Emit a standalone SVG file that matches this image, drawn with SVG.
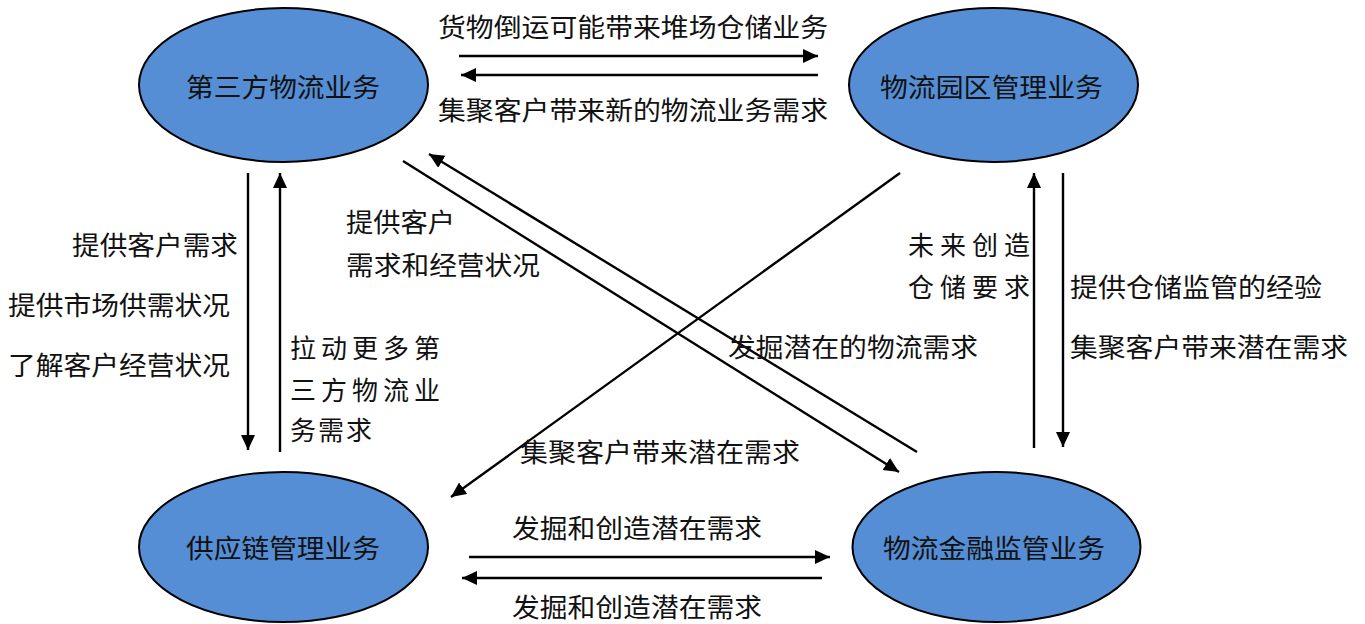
<svg xmlns="http://www.w3.org/2000/svg" width="1365" height="624" viewBox="0 0 1365 624">
  <style>
    .node ellipse { fill: #558ED5; stroke: #000; stroke-width: 2; }
    text { font-family: "Liberation Serif", "Noto Sans CJK SC", serif; font-size: 26px; fill: #111; }
    .conn line { stroke: #000; stroke-width: 2.4; fill: none; }
    .arrow { marker-end: url(#head); }
  </style>
  <defs>
    <marker id="head" markerUnits="userSpaceOnUse" markerWidth="16" markerHeight="15" refX="15" refY="7" orient="auto">
      <path d="M0,0 L15,7 L0,14 Z" fill="#000"/>
    </marker>
  </defs>

  <rect width="1365" height="624" fill="#fff"/>

  <!-- business nodes -->
  <g id="node-3pl" class="node">
    <ellipse cx="283.5" cy="85" rx="144.5" ry="77"/>
    <text x="186" y="97" textLength="194" lengthAdjust="spacingAndGlyphs">第三方物流业务</text>
  </g>
  <g id="node-park" class="node">
    <ellipse cx="993.5" cy="85" rx="144.5" ry="77"/>
    <text x="880" y="97" textLength="223" lengthAdjust="spacingAndGlyphs">物流园区管理业务</text>
  </g>
  <g id="node-scm" class="node">
    <ellipse cx="283.5" cy="547" rx="144.5" ry="75"/>
    <text x="186" y="558" textLength="194" lengthAdjust="spacingAndGlyphs">供应链管理业务</text>
  </g>
  <g id="node-finance" class="node">
    <ellipse cx="996.5" cy="547" rx="144" ry="75"/>
    <text x="883" y="558" textLength="222" lengthAdjust="spacingAndGlyphs">物流金融监管业务</text>
  </g>

  <!-- connectors -->
  <g id="connectors" class="conn">
    <!-- top pair -->
    <line class="arrow" x1="459" y1="56" x2="818" y2="56"/>
    <line class="arrow" x1="818" y1="75" x2="461" y2="75"/>
    <!-- left pair -->
    <line class="arrow" x1="248" y1="173" x2="248" y2="450"/>
    <line class="arrow" x1="280" y1="452" x2="280" y2="173"/>
    <!-- right pair -->
    <line class="arrow" x1="1034" y1="448" x2="1034" y2="173"/>
    <line class="arrow" x1="1063" y1="173" x2="1063" y2="447"/>
    <!-- bottom pair -->
    <line class="arrow" x1="469" y1="557" x2="830" y2="557"/>
    <line class="arrow" x1="822" y1="578" x2="462" y2="578"/>
    <!-- diagonals -->
    <line class="arrow" x1="403" y1="161" x2="899" y2="472"/>
    <line class="arrow" x1="917" y1="452" x2="429" y2="154"/>
    <line class="arrow" x1="900" y1="173" x2="451" y2="497"/>
  </g>

  <!-- connector labels -->
  <g id="labels">
    <text x="438" y="37" textLength="390" lengthAdjust="spacingAndGlyphs">货物倒运可能带来堆场仓储业务</text>
    <text x="438" y="120" textLength="390" lengthAdjust="spacingAndGlyphs">集聚客户带来新的物流业务需求</text>

    <text x="72" y="255" textLength="166" lengthAdjust="spacingAndGlyphs">提供客户需求</text>
    <text x="8" y="315" textLength="222" lengthAdjust="spacingAndGlyphs">提供市场供需状况</text>
    <text x="8" y="375" textLength="222" lengthAdjust="spacingAndGlyphs">了解客户经营状况</text>

    <text x="290" y="358" textLength="150" lengthAdjust="spacing">拉动更多第</text>
    <text x="290" y="400" textLength="150" lengthAdjust="spacing">三方物流业</text>
    <text x="290" y="440" textLength="82" lengthAdjust="spacing">务需求</text>

    <text x="346" y="232" textLength="109" lengthAdjust="spacingAndGlyphs">提供客户</text>
    <text x="346" y="275" textLength="194" lengthAdjust="spacingAndGlyphs">需求和经营状况</text>

    <text x="908" y="255" textLength="122" lengthAdjust="spacing">未来创造</text>
    <text x="908" y="297" textLength="122" lengthAdjust="spacing">仓储要求</text>

    <text x="1070" y="297" textLength="252" lengthAdjust="spacingAndGlyphs">提供仓储监管的经验</text>
    <text x="1070" y="357" textLength="278" lengthAdjust="spacingAndGlyphs">集聚客户带来潜在需求</text>

    <text x="728" y="357" textLength="250" lengthAdjust="spacingAndGlyphs">发掘潜在的物流需求</text>
    <text x="520" y="462" textLength="280" lengthAdjust="spacingAndGlyphs">集聚客户带来潜在需求</text>

    <text x="512" y="538" textLength="250" lengthAdjust="spacingAndGlyphs">发掘和创造潜在需求</text>
    <text x="512" y="617" textLength="250" lengthAdjust="spacingAndGlyphs">发掘和创造潜在需求</text>
  </g>
</svg>
